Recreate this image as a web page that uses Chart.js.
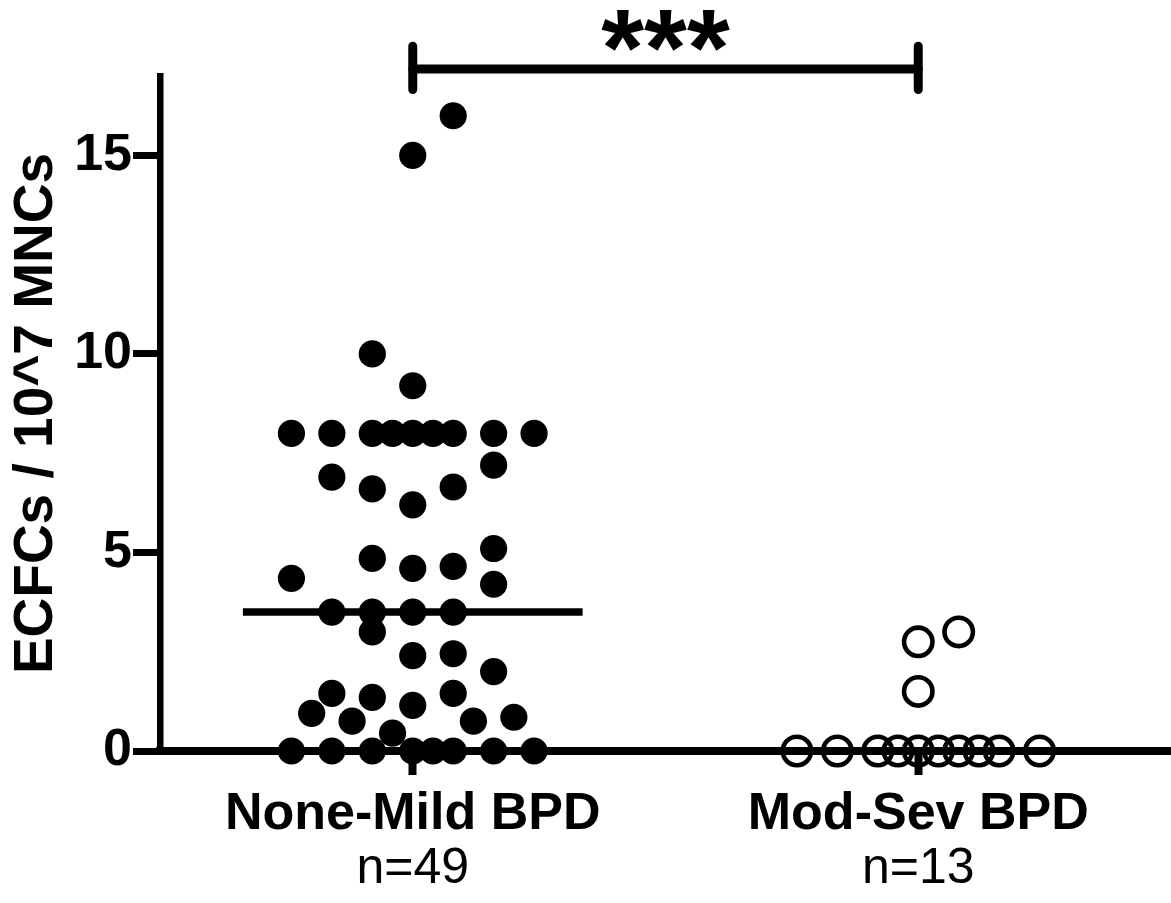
<!DOCTYPE html>
<html>
<head>
<meta charset="utf-8">
<script src="https://cdn.jsdelivr.net/npm/chart.js@4"></script>
<style>
  html, body { margin: 0; padding: 0; background: #fff; }
  #wrap { width: 1171px; height: 903px; }
</style>
</head>
<body>
<div id="wrap"><canvas id="c" width="1171" height="903"></canvas></div>
<script>
// ---- data ----
const categories = ['None-Mild BPD', 'Mod-Sev BPD'];
const counts = ['n=49', 'n=13'];
const yTicks = [0, 5, 10, 15];
const yTitle = 'ECFCs / 10^7 MNCs';
const sigLabel = '***';

const group1Values = [16, 15, 10, 9.2,
  8, 8, 8, 8, 8, 8, 8, 8, 8,
  7.2, 6.9, 6.6, 6.2, 6.65,
  5.1, 4.85, 4.6, 4.65, 4.35, 4.2,
  3.5, 3.5, 3.5, 3.5,
  3.0, 2.4, 2.45, 2.0,
  1.45, 1.35, 1.15, 1.45,
  0.95, 0.75, 0.45, 0.75, 0.85,
  0, 0, 0, 0, 0, 0, 0, 0];
const group1Jitter = [0.08, 0, -0.08, 0,
  -0.24, -0.16, -0.08, -0.04, 0, 0.04, 0.08, 0.16, 0.24,
  0.16, -0.16, -0.08, 0, 0.08,
  0.16, -0.08, 0, 0.08, -0.24, 0.16,
  -0.16, -0.08, 0, 0.08,
  -0.08, 0, 0.08, 0.16,
  -0.16, -0.08, 0, 0.08,
  -0.20, -0.12, -0.04, 0.12, 0.20,
  -0.24, -0.16, -0.08, 0, 0.04, 0.08, 0.16, 0.24];

const group2Values = [2.75, 3.0, 1.5, 0, 0, 0, 0, 0, 0, 0, 0, 0, 0];
const group2Jitter = [0, 0.08, 0, -0.24, -0.16, -0.08, -0.04, 0, 0.04, 0.08, 0.12, 0.16, 0.24];

const medians = [3.5, 0];

// ---- layout constants (not data) ----
const FONT = "'Liberation Sans', Arial, Helvetica, sans-serif";
const medianHalfWidth = 0.336;
const bracketY = 17.18, bracketTop = 17.75, bracketBottom = 16.66;

const g1 = group1Values.map((v, i) => ({ x: 1 + group1Jitter[i], y: v }));
const g2 = group2Values.map((v, i) => ({ x: 2 + group2Jitter[i], y: v }));

const lineDs = (pts, w, cap) => ({
  type: 'line', data: pts, borderColor: '#000', borderWidth: w,
  pointRadius: 0, clip: false, borderCapStyle: cap, tension: 0, spanGaps: false
});

const medianPts = [];
medians.forEach((m, i) => {
  if (i) medianPts.push({ x: i + 0.5, y: null });
  medianPts.push({ x: i + 1 - medianHalfWidth, y: m }, { x: i + 1 + medianHalfWidth, y: m });
});

const datasets = [
  { type: 'scatter', data: g1, pointRadius: 13.6, pointBackgroundColor: '#000',
    pointBorderWidth: 0, pointBorderColor: '#000', clip: false },
  { type: 'scatter', data: g2, pointRadius: 14.2, pointBackgroundColor: 'rgba(0,0,0,0)',
    pointBorderWidth: 4.6, pointBorderColor: '#000', clip: false },
  lineDs(medianPts, 7.5, 'butt'),
  lineDs([{ x: 1, y: bracketY }, { x: 2, y: bracketY }], 9, 'round'),
  lineDs([{ x: 1, y: bracketTop }, { x: 1, y: bracketBottom }], 9, 'round'),
  lineDs([{ x: 2, y: bracketTop }, { x: 2, y: bracketBottom }], 9, 'round')
];

const tickSetter = (vals) => (s) => { s.ticks = vals.map(v => ({ value: v })); };

new Chart(document.getElementById('c'), {
  data: { datasets },
  options: {
    responsive: false,
    animation: false,
    devicePixelRatio: 1,
    layout: { padding: 0, autoPadding: false },
    plugins: {
      legend: { display: false },
      tooltip: { enabled: false },
      title: {
        display: true, text: sigLabel, color: '#000', fullSize: false,
        font: { family: FONT, size: 110, weight: 'bold', lineHeight: 0.395 },
        padding: { top: 32.6, bottom: 0 }
      }
    },
    scales: {
      x: {
        type: 'linear', position: 'bottom', min: 0.5, max: 2.5, weight: 0,
        afterBuildTicks: tickSetter([1, 2]),
        ticks: { callback: (v, i) => categories[i], color: '#000', padding: 8,
                 font: { family: FONT, size: 52, weight: 'bold' }, maxRotation: 0, autoSkip: false },
        grid: { drawOnChartArea: false, drawTicks: true, tickLength: 24, tickWidth: 8, color: '#000' },
        border: { display: true, width: 8, color: '#000' },
        afterFit: (s) => { s.height = 80; }
      },
      n: {
        type: 'linear', position: 'bottom', min: 0.5, max: 2.5, weight: 1,
        afterBuildTicks: tickSetter([1, 2]),
        ticks: { callback: (v, i) => counts[i], color: '#000', padding: 0,
                 font: { family: FONT, size: 50 }, maxRotation: 0, autoSkip: false },
        grid: { display: false, drawTicks: true, tickLength: 8 }, border: { display: false },
        afterFit: (s) => { s.height = 72; }
      },
      y: {
        type: 'linear', position: 'left', min: 0, max: 17,
        afterBuildTicks: tickSetter(yTicks),
        ticks: { color: '#000', padding: 1, font: { family: FONT, size: 52, weight: 'bold' } },
        grid: { drawOnChartArea: false, drawTicks: true, tickLength: 27, tickWidth: 7, color: '#000' },
        border: { display: true, width: 6.5, color: '#000' },
        title: { display: true, text: yTitle, color: '#000',
                 font: { family: FONT, size: 55, weight: 'bold' }, padding: { top: 4, bottom: 0 } },
        afterFit: (s) => { s.width = 160; }
      }
    }
  }
});
</script>
</body>
</html>
